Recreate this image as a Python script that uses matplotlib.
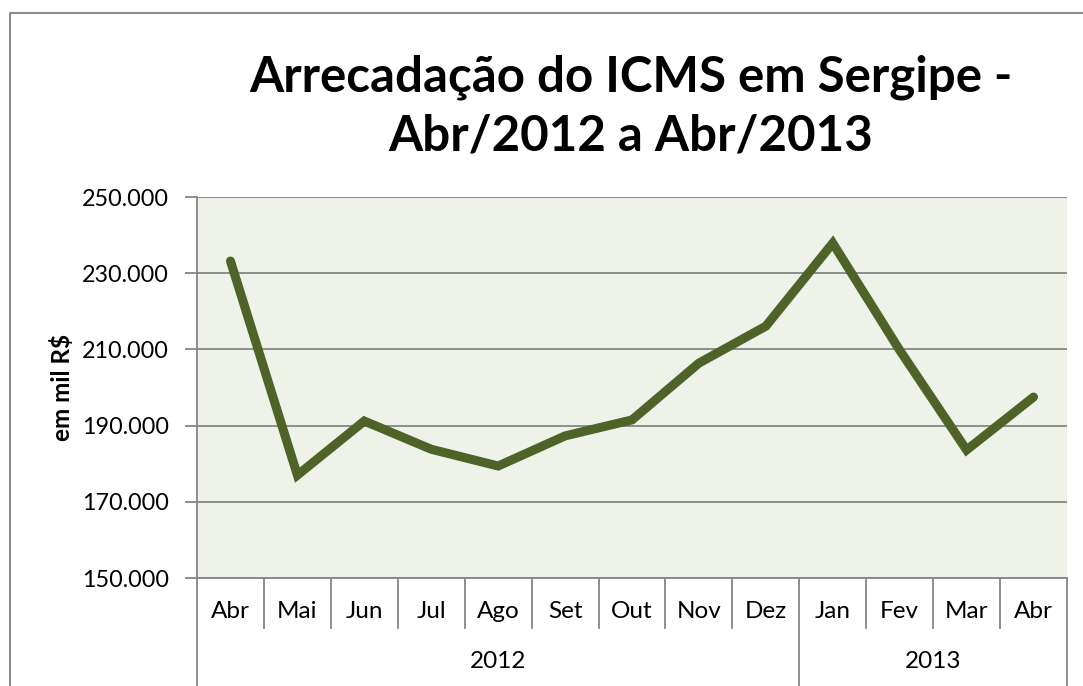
import matplotlib
matplotlib.use("Agg")
import matplotlib.pyplot as plt
from matplotlib.lines import Line2D

plt.rcParams["font.family"] = ["Lato", "DejaVu Sans"]

# dados (em mil R$)
meses = ["Abr", "Mai", "Jun", "Jul", "Ago", "Set", "Out", "Nov", "Dez",
         "Jan", "Fev", "Mar", "Abr"]
anos = ["2012", "2013"]
meses_por_ano = [9, 4]
arrecadacao = [233200, 177000, 191200, 183800, 179400, 187300, 191500,
               206400, 216100, 237900, 209800, 183600, 197500]

fig = plt.figure(figsize=(10.83, 6.86), dpi=100)
ax = fig.add_axes([0.1819, 0.1574, 0.8033, 0.5554])

grid_color = "#868686"
ax.set_facecolor("#EEF2E8")
x = list(range(len(meses)))
ax.plot(x, arrecadacao, color="#4F6228", linewidth=6.5,
        solid_joinstyle="miter", solid_capstyle="round", zorder=3)

ax.set_xlim(-0.5, len(meses) - 0.5)
ax.set_ylim(150000, 250000)
yt = list(range(150000, 250001, 20000))
ax.set_yticks(yt)
ax.set_yticklabels([f"{v // 1000}.000" for v in yt], fontsize=16.8)
ax.yaxis.grid(True, color=grid_color, linewidth=1.3)
ax.set_axisbelow(True)
ax.tick_params(axis="y", length=9, width=1.3, color=grid_color, pad=11)
ax.set_xticks([])

for s in ["top", "right"]:
    ax.spines[s].set_visible(False)
ax.spines["left"].set_color(grid_color)
ax.spines["left"].set_linewidth(1.3)
ax.spines["bottom"].set_color(grid_color)
ax.spines["bottom"].set_linewidth(1.3)

ax.set_ylabel("em mil R$", fontsize=17.5, fontweight="bold", labelpad=6)

# eixo de categorias em dois niveis
tr = ax.get_xaxis_transform()
for i, m in enumerate(meses):
    ax.text(i, -0.087, m, transform=tr, ha="center", va="center",
            fontsize=17.5)
limites = [-0.5]
for n in meses_por_ano:
    limites.append(limites[-1] + n)
for k in range(1, len(meses)):
    b = k - 0.5
    if b in limites:
        continue
    ax.plot([b, b], [0, -0.131], transform=tr, color=grid_color,
            linewidth=1.3, clip_on=False)
for b in limites:
    ax.plot([b, b], [0, -0.3], transform=tr, color=grid_color,
            linewidth=1.3, clip_on=False)
for j, ano in enumerate(anos):
    centro = (limites[j] + limites[j + 1]) / 2
    ax.text(centro, -0.22, ano, transform=tr, ha="center", va="center",
            fontsize=17.5)

fig.text(0.5825, 0.845, "Arrecadação do ICMS em Sergipe -\nAbr/2012 a Abr/2013",
         ha="center", va="center", fontsize=35.5, fontweight="bold",
         linespacing=1.36)

# borda da area do grafico
fig.add_artist(Line2D([10 / 1083, 10 / 1083, 1.0], [0.0, 1 - 13 / 686, 1 - 13 / 686],
                      transform=fig.transFigure, color="#8C8C8C", linewidth=1.5))

fig.savefig("out.png", dpi=100)
